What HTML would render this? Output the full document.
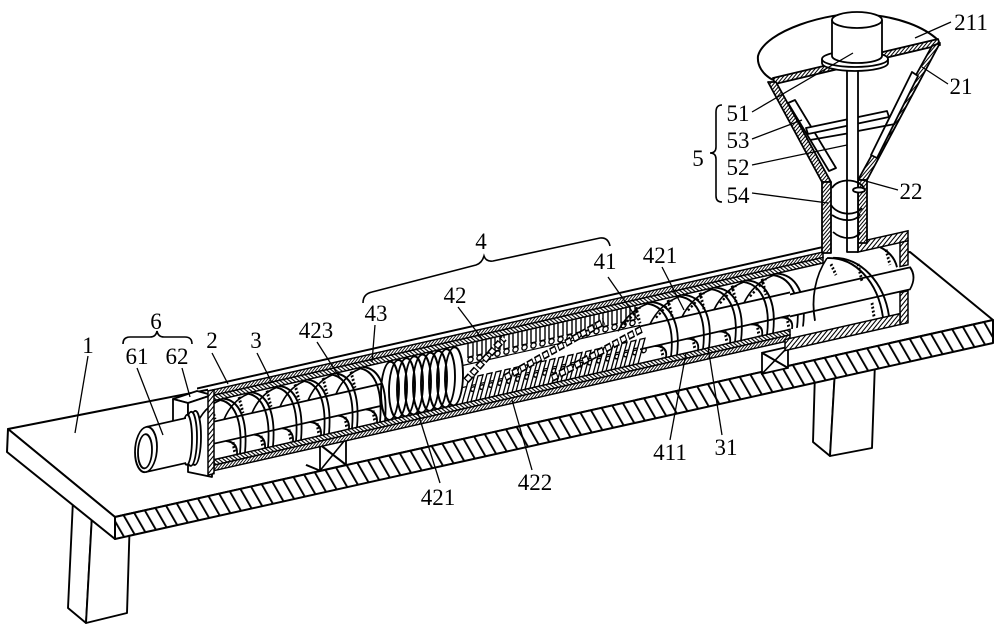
<!DOCTYPE html>
<html><head><meta charset="utf-8"><style>
html,body{margin:0;padding:0;background:#fff}
svg{display:block}
text{font-family:"Liberation Serif",serif;font-size:23px;fill:#000;text-anchor:middle}
</style></head><body>
<svg xmlns="http://www.w3.org/2000/svg" width="1000" height="629" viewBox="0 0 1000 629">
<defs>
 <pattern id="ht" width="12" height="40" patternUnits="userSpaceOnUse" patternTransform="skewX(30)">
  <rect width="12" height="40" fill="#fff"/><rect x="5" width="2.2" height="40" fill="#000"/></pattern>
 <pattern id="ha" width="3.6" height="40" patternUnits="userSpaceOnUse" patternTransform="skewX(-45)">
  <rect width="3.6" height="40" fill="#fff"/><rect x="1" width="1.4" height="40" fill="#000"/></pattern>
 <pattern id="hb" width="3.6" height="40" patternUnits="userSpaceOnUse" patternTransform="skewX(45)">
  <rect width="3.6" height="40" fill="#fff"/><rect x="1" width="1.4" height="40" fill="#000"/></pattern>
 <pattern id="hw" width="5.5" height="40" patternUnits="userSpaceOnUse" patternTransform="skewX(-45)">
  <rect width="5.5" height="40" fill="#fff"/><rect x="2" width="1.7" height="40" fill="#000"/></pattern>
 <pattern id="hn" width="3.6" height="40" patternUnits="userSpaceOnUse" patternTransform="skewX(-40)">
  <rect width="3.6" height="40" fill="#fff"/><rect x="1" width="1.3" height="40" fill="#000"/></pattern>

 <g id="fL" fill="none" stroke="#000" stroke-width="1.8">
  <path d="M0,449 C16,454 25,474 22,508"/>
  <path d="M5,449 C21,454 30,474 27,508"/>
  <path d="M-22,470 Q-14,453 2,450"/>
  <path d="M8,492 Q20,496 19,508"/>
  <path d="M-7,451 L-3,468" stroke-dasharray="2 2" stroke-width="2.8"/>
  <path d="M15,495 L17,507" stroke-dasharray="2 2" stroke-width="2.8"/>
 </g>
 <g id="fR" fill="none" stroke="#000" stroke-width="1.8">
  <path d="M0,449 C20,454 31,476 27,508"/>
  <path d="M6,449 C26,454 37,476 33,508"/>
  <path d="M-26,471 Q-16,453 4,450"/>
  <path d="M-20,466 L-4,452" stroke-dasharray="2 2" stroke-width="2.6"/>
  <path d="M11,494 Q24,497 22,508"/>
  <path d="M-8,451 L-4,468" stroke-dasharray="2 2" stroke-width="2.8"/>
  <path d="M17,495 L19,507" stroke-dasharray="2 2" stroke-width="2.8"/>
 </g>
 <g id="pT" fill="#fff" stroke="#000" stroke-width="1.4"><rect x="0" y="449" width="5" height="14"/><circle cx="2.5" cy="466" r="2.6"/></g>
 <g id="pB" fill="#fff" stroke="#000" stroke-width="1.4"><path d="M0,508 L7,484 L12,484 L5,508Z"/><circle cx="11" cy="496" r="2.2"/></g>
</defs>

<!-- legs -->
<g fill="#fff" stroke="#000" stroke-width="1.9" stroke-linejoin="round">
 <polygon points="73,500 92,515 86,623 68,608"/>
 <polygon points="92,515 130,515 127,613 86,623"/>
 <polygon points="815,372 835,370 830,456 813,442"/>
 <polygon points="835,370 875,362 872,448 830,456"/>
</g>

<!-- table -->
<g stroke="#000" stroke-width="2" stroke-linejoin="round">
 <polygon points="8,429 910,252 993,320 115,517" fill="#fff"/>
 <polygon points="8,429 115,517 115,539 7,452" fill="#fff"/>
 <polygon points="115,517 993,320 993,343 115,539" fill="url(#ht)"/>
</g>

<!-- box 62 -->
<g fill="#fff" stroke="#000" stroke-width="1.8" stroke-linejoin="round">
 <polygon points="173,399 197,391 212,395 188,403"/>
 <polygon points="173,399 188,403 188,432 173,428"/>
 <polygon points="188,403 212,395 212,477 188,472"/>
</g>

<!-- barrel (local oblique coords) -->
<g transform="matrix(1,-0.226,0,1,0,0)" stroke="#000" stroke-width="1.8" fill="none">
 <g fill="#fff"><rect x="320" y="517" width="26" height="26"/><rect x="762" y="525" width="26" height="21"/></g>
 <path d="M320,517 L346,543 M346,517 L320,543 M762,525 L788,546 M788,525 L762,546 M320,517 L303,512 M320,543 L306,534"/>
 <rect x="208" y="433" width="615" height="86" fill="#fff" stroke="none"/>
 <rect x="785" y="436" width="123" height="92" fill="#fff" stroke="none"/>
 <path d="M197,433 L823,433" stroke-width="2"/>

 <!-- left screw -->
 <path d="M214,470 H382 M214,492 H382"/>
 <use href="#fL" x="218"/><use href="#fL" x="246"/><use href="#fL" x="274"/>
 <use href="#fL" x="302"/><use href="#fL" x="330"/><use href="#fL" x="358"/>

 <!-- coil 43 -->
 <g stroke-width="1.9">
 <ellipse cx="390" cy="479" rx="9" ry="29"/><ellipse cx="398" cy="479" rx="9" ry="29"/>
 <ellipse cx="406" cy="479" rx="9" ry="29"/><ellipse cx="414" cy="479" rx="9" ry="29"/>
 <ellipse cx="422" cy="479" rx="9" ry="29"/><ellipse cx="430" cy="479" rx="9" ry="29"/>
 <ellipse cx="438" cy="479" rx="9" ry="29"/><ellipse cx="446" cy="479" rx="9" ry="29"/>
 <ellipse cx="454" cy="479" rx="9" ry="29"/>
 </g>

 <!-- mixing 42 -->
 <path d="M462,470 H640 M462,492 H640" stroke-width="1.2"/>
 <use href="#pT" x="468"/><use href="#pT" x="477"/><use href="#pT" x="486"/><use href="#pT" x="495"/>
 <use href="#pT" x="504"/><use href="#pT" x="513"/><use href="#pT" x="522"/><use href="#pT" x="531"/>
 <use href="#pT" x="540"/><use href="#pT" x="549"/><use href="#pT" x="558"/><use href="#pT" x="567"/>
 <use href="#pT" x="576"/><use href="#pT" x="585"/><use href="#pT" x="594"/><use href="#pT" x="603"/>
 <use href="#pT" x="612"/><use href="#pT" x="621"/><use href="#pT" x="630"/>
 <use href="#pB" x="462"/><use href="#pB" x="471"/><use href="#pB" x="480"/><use href="#pB" x="489"/>
 <use href="#pB" x="498"/><use href="#pB" x="507"/><use href="#pB" x="516"/><use href="#pB" x="525"/>
 <use href="#pB" x="534"/><use href="#pB" x="543"/><use href="#pB" x="552"/><use href="#pB" x="561"/>
 <use href="#pB" x="570"/><use href="#pB" x="579"/><use href="#pB" x="588"/><use href="#pB" x="597"/>
 <use href="#pB" x="606"/><use href="#pB" x="615"/><use href="#pB" x="624"/><use href="#pB" x="633"/>
 <g stroke-width="8" stroke-dasharray="6 2">
  <path d="M466,486 L504,452"/><path d="M505,492 L604,458"/><path d="M552,503 L642,474"/>
 </g>
 <g stroke="#fff" stroke-width="4.4" stroke-dasharray="4 4" stroke-dashoffset="-1">
  <path d="M466,486 L504,452"/><path d="M505,492 L604,458"/><path d="M552,503 L642,474"/>
 </g>

 <!-- right screw -->
 <path d="M640,471 H790 M640,494 H790"/>
 <use href="#fR" x="644"/><use href="#fR" x="676"/><use href="#fR" x="708"/>
 <use href="#fR" x="740"/><use href="#fR" x="770"/>

 <!-- housing interior -->
 <path d="M790,473 H910 Q917,484 910,495 H790" fill="#fff"/>
 <path d="M827,445 C855,450 878,480 883,517"/>
 <path d="M833,446 C861,452 884,482 889,517"/>
 <path d="M827,445 C815,460 811,482 815,505"/>
 <path d="M880,446 Q894,456 897,470"/>
 <path d="M831,452 L836,464 M858,458 L862,476 M886,450 L890,466 M872,500 L874,514" stroke-dasharray="2 2" stroke-width="2.8"/>

 <!-- hatched walls -->
 <g stroke-width="1.5">
 <rect x="210" y="438" width="613" height="5.5" fill="url(#ha)"/>
 <rect x="210" y="443.5" width="613" height="5.5" fill="url(#hb)"/>
 <rect x="214" y="508" width="576" height="5.5" fill="url(#hb)"/>
 <rect x="214" y="513.5" width="576" height="5.5" fill="url(#ha)"/>
 <rect x="208" y="438" width="6" height="84" fill="url(#hw)"/>
 <rect x="858" y="436" width="50" height="10" fill="url(#hw)"/>
 <rect x="900" y="446" width="8" height="24" fill="url(#hw)"/>
 <rect x="900" y="496" width="8" height="32" fill="url(#hw)"/>
 <rect x="785" y="517" width="115" height="11" fill="url(#hw)"/>
 </g>

 <!-- motor 61 -->
 <g fill="#fff">
  <ellipse cx="195" cy="482" rx="6" ry="27"/>
  <ellipse cx="191" cy="482" rx="6" ry="27"/>
  <ellipse cx="187" cy="482" rx="5" ry="25"/>
  <rect x="146" y="460" width="40" height="45" stroke="none"/>
  <path d="M146,460 H186 M146,505 H186"/>
  <ellipse cx="146" cy="482.5" rx="11" ry="22.5"/>
  <ellipse cx="145" cy="484" rx="7" ry="17"/>
 </g>
</g>

<!-- hopper -->
<g stroke="#000" stroke-width="1.8" fill="none" stroke-linejoin="round">
 <path d="M773,80 C762,74 757,65 758,56 C765,30 830,12 860,14 C900,16 925,28 938,40" stroke-width="2"/>
 <polygon points="773,78 938,39 940,45 775,84" fill="url(#hn)"/>
 <polygon points="768,82 776,82 831,182 822,182" fill="url(#hn)"/>
 <polygon points="932,46 940,43 867,180 858,180" fill="url(#hn)"/>
 <polygon points="822,182 831,182 831,253 822,253" fill="url(#hn)"/>
 <polygon points="858,180 867,180 867,243 858,243" fill="url(#hn)"/>
 <!-- scrapers 53 -->
 <polygon points="788,103 795,100 836,168 829,171" fill="#fff"/>
 <polygon points="912,72 918,76 877,158 871,155" fill="#fff"/>
 <polygon points="806,128 887,111 889,117 808,134" fill="#fff"/>
 <path d="M810,140 L850,133 M858,131 L895,124"/>
 <!-- shaft -->
 <rect x="847" y="64" width="11" height="188" fill="#fff"/>
 <!-- spiral 54 -->
 <path d="M832,188 C838,178 858,178 864,188"/>
 <path d="M831,205 C838,216 856,216 862,208 M832,215 C842,222 856,222 860,214"/>
 <path d="M833,232 C842,240 856,240 860,232"/>
 <ellipse cx="859" cy="190" rx="6" ry="2.5" fill="#fff"/>
 <!-- flange + cylinder 51 -->
 <path d="M822,59 L822,63 A33,8 0 0 0 888,63 L888,59" fill="#fff"/>
 <ellipse cx="855" cy="59" rx="33" ry="8" fill="#fff"/>
 <path d="M832,20 L832,56 A25,7 0 0 0 882,56 L882,20" fill="#fff"/>
 <ellipse cx="857" cy="20" rx="25" ry="8" fill="#fff"/>
</g>

<!-- braces -->
<g stroke="#000" stroke-width="1.6" fill="none">
 <path d="M123,344 Q123,337 130,337 L150,337 Q156,337 157,331 Q158,337 164,337 L185,337 Q192,337 192,344"/>
 <path d="M363,303 Q363,294 372,292 L476,265 Q482,263 484,256 Q486,262 493,261 L600,238 Q608,237 610,246"/>
 <path d="M722,105 Q716,105 716,112 L716,147 Q716,153 710,153 Q716,153 716,159 L716,196 Q716,202 722,202"/>
</g>

<!-- leader lines -->
<g stroke="#000" stroke-width="1.3" fill="none">
 <path d="M88,356 L75,433"/>
 <path d="M137,368 L163,435"/>
 <path d="M182,368 L190,397"/>
 <path d="M212,353 L228,384"/>
 <path d="M257,353 L272,383"/>
 <path d="M317,342 L340,378"/>
 <path d="M375,325 L372,362"/>
 <path d="M458,307 L483,340"/>
 <path d="M608,277 L638,320"/>
 <path d="M662,267 L684,310"/>
 <path d="M417,410 L440,483"/>
 <path d="M532,470 L512,400"/>
 <path d="M670,440 L686,353"/>
 <path d="M722,435 L708,347"/>
 <path d="M951,22 L915,38"/>
 <path d="M948,84 L922,67"/>
 <path d="M752,112 L853,53"/>
 <path d="M752,139 L802,120"/>
 <path d="M752,165 L847,145"/>
 <path d="M752,193 L828,203"/>
 <path d="M898,190 L862,180"/>
</g>

<!-- labels -->
<text x="88" y="353">1</text>
<text x="156" y="329">6</text>
<text x="137" y="364">61</text>
<text x="177" y="364">62</text>
<text x="212" y="348">2</text>
<text x="256" y="348">3</text>
<text x="316" y="338">423</text>
<text x="376" y="321">43</text>
<text x="481" y="249">4</text>
<text x="455" y="303">42</text>
<text x="605" y="269">41</text>
<text x="660" y="263">421</text>
<text x="438" y="505">421</text>
<text x="535" y="490">422</text>
<text x="670" y="460">411</text>
<text x="726" y="455">31</text>
<text x="971" y="30">211</text>
<text x="961" y="94">21</text>
<text x="738" y="121">51</text>
<text x="738" y="148">53</text>
<text x="738" y="175">52</text>
<text x="738" y="203">54</text>
<text x="698" y="166">5</text>
<text x="911" y="199">22</text>
</svg>
</body></html>
